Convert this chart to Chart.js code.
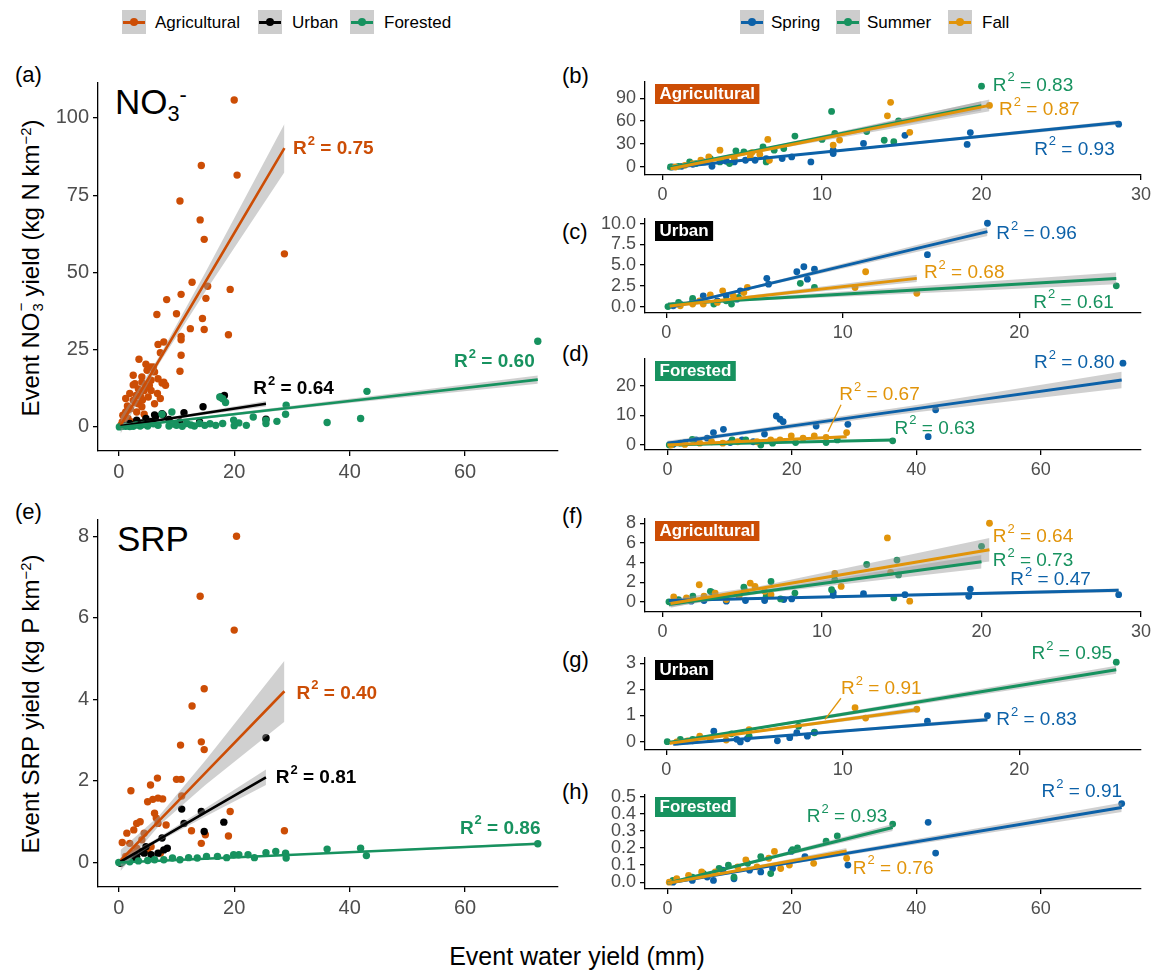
<!DOCTYPE html>
<html>
<head>
<meta charset="utf-8">
<script src="https://cdn.jsdelivr.net/npm/chart.js@4.4.1/dist/chart.umd.min.js"></script>
<style>
  body { margin: 0; background: #fff; font-family: "Liberation Sans", Arial, Helvetica, sans-serif; }
  #fig { position: relative; width: 1151px; height: 972px; overflow: hidden; background: #fff; }
  #fig canvas { position: absolute; }
  .t { position: absolute; white-space: nowrap; color: #000; line-height: 1; }
  .lab { font-size: 22px; transform: translateY(-50%); }
  .key { position: absolute; width: 24px; height: 24px; background: #cdcdcd; }
  .key i { position: absolute; left: 1px; right: 1px; top: 11px; height: 3px; }
  .key b { position: absolute; left: 8px; top: 8px; width: 8px; height: 8px; border-radius: 50%; }
  .leg { font-size: 17px; transform: translateY(-50%); }
  .ytitle { font-size: 24px; transform: translate(-50%, -50%) rotate(-90deg); }
  .big { font-size: 35px; }
  sup { font-size: 0.62em; line-height: 0; vertical-align: 0.55em; }
  sub { font-size: 0.62em; line-height: 0; vertical-align: -0.3em; }
  .ion { position: relative; font-size: 0.62em; vertical-align: -0.3em; line-height: 0; margin-left: 1px; }
  .ion span { position: absolute; left: 0.02em; top: -1.1em; line-height: 1; }
</style>
</head>
<body>
<div id="fig">
  <!-- legends -->
  <span class="key" style="left:122px;top:10px"><i style="background:#cc4d05"></i><b style="background:#cc4d05"></b></span>
  <span class="t leg" style="left:155px;top:22px">Agricultural</span>
  <span class="key" style="left:258px;top:10px"><i style="background:#000"></i><b style="background:#000"></b></span>
  <span class="t leg" style="left:292px;top:22px">Urban</span>
  <span class="key" style="left:350px;top:10px"><i style="background:#17925f"></i><b style="background:#17925f"></b></span>
  <span class="t leg" style="left:384px;top:22px">Forested</span>

  <span class="key" style="left:740px;top:10px"><i style="background:#0c61a8"></i><b style="background:#0c61a8"></b></span>
  <span class="t leg" style="left:771px;top:22px">Spring</span>
  <span class="key" style="left:836px;top:10px"><i style="background:#17925f"></i><b style="background:#17925f"></b></span>
  <span class="t leg" style="left:867px;top:22px">Summer</span>
  <span class="key" style="left:948px;top:10px"><i style="background:#e1940a"></i><b style="background:#e1940a"></b></span>
  <span class="t leg" style="left:982px;top:22px">Fall</span>

  <!-- panel letters -->
  <span class="t lab" style="left:15px;top:75px">(a)</span>
  <span class="t lab" style="left:15px;top:512px">(e)</span>
  <span class="t lab" style="left:562px;top:76px">(b)</span>
  <span class="t lab" style="left:562px;top:232px">(c)</span>
  <span class="t lab" style="left:562px;top:354px">(d)</span>
  <span class="t lab" style="left:562px;top:516px">(f)</span>
  <span class="t lab" style="left:562px;top:660px">(g)</span>
  <span class="t lab" style="left:562px;top:792px">(h)</span>

  <!-- big panel titles -->
  <span class="t big" style="left:115px;top:84px">NO<sub>3</sub><sup>-</sup></span>
  <span class="t big" style="left:117px;top:521px">SRP</span>

  <!-- axis titles -->
  <span class="t ytitle" style="left:31px;top:268px">Event NO<span class="ion">3<span>−</span></span> yield (kg N km<sup>−2</sup>)</span>
  <span class="t ytitle" style="left:31px;top:704px">Event SRP yield (kg P km<sup>−2</sup>)</span>
  <span class="t" style="left:577px;top:956px;font-size:25px;transform:translate(-50%,-50%)">Event water yield (mm)</span>
</div>

<script>
// ---------- tick values ----------
const ticksBig = [0, 20, 40, 60];
const ticks30 = [0, 10, 20, 30];
const ticks20 = [0, 10, 20];
const yTicksNo3 = [0, 25, 50, 75, 100];
const yTicksSrp = [0, 2, 4, 6, 8];

// ---------- (a) NO3, by land use ----------
const no3AgriPts = [[20.0,105.8],[14.3,84.6],[20.5,81.5],[10.6,73.1],[14.1,67.0],[14.8,60.7],[28.7,56.0],[12.7,46.8],[15.4,45.5],[19.3,44.5],[10.8,42.9],[8.3,41.2],[15.1,41.6],[6.6,36.4],[10.0,36.6],[14.5,35.1],[12.4,31.8],[14.8,31.5],[19.0,29.8],[10.8,29.3],[10.8,28.2],[6.8,26.7],[7.8,27.5],[7.2,24.0],[10.8,23.2],[3.5,21.9],[10.6,18.0],[4.7,20.3],[5.5,19.4],[6.2,17.8],[4.9,18.3],[4.0,16.2],[5.6,15.1],[6.8,15.6],[7.8,14.5],[8.1,13.5],[2.8,14.0],[3.4,12.3],[4.4,11.8],[5.6,11.8],[6.7,10.8],[7.2,9.2],[1.9,10.8],[1.2,9.2],[2.5,8.6],[3.4,7.5],[4.0,6.5],[2.0,5.9],[1.2,4.8],[0.7,3.8],[1.6,2.7],[2.2,1.6],[0.9,1.1],[3.1,4.8],[4.4,4.1],[6.2,7.5],[3.0,10.2],[4.0,14.5],[2.5,16.7],[6.0,19.4],[7.5,14.2],[2.5,13.6],[2.9,7.8],[1.6,5.5],[1.1,3.2],[0.6,1.6],[4.1,8.7],[5.1,9.7],[4.6,12.9],[0.4,0.6],[1.5,6.8],[3.8,9.8],[5.3,13.4]];
const no3UrbPts = [[18.3,10.2],[17.7,9.7],[14.6,6.5],[11.3,4.6],[7.5,4.3],[6.4,3.4],[4.7,2.7],[3.1,2.2],[25.5,2.5],[14.0,1.6],[1.9,1.1],[0.9,0.5],[3.9,1.3],[5.6,1.8],[8.7,2.4],[10.6,1.6],[6.2,3.9],[7.7,3.9]];
const no3ForPts = [[72.6,27.7],[43.0,11.5],[41.9,2.7],[36.1,1.4],[29.0,7.0],[28.9,4.1],[27.4,1.8],[25.5,1.1],[25.5,2.2],[23.3,3.2],[20.8,1.3],[19.9,2.2],[17.5,9.7],[18.5,7.9],[18.0,9.1],[9.2,4.8],[7.5,4.1],[16.8,0.5],[14.9,0.5],[13.1,0.3],[11.8,1.1],[10.0,0.5],[8.7,0.3],[6.8,0.5],[5.0,0.3],[3.7,0.3],[2.5,0.2],[1.2,0.2],[0.1,0.0],[0.6,0.2],[1.9,0.1],[18.0,1.1],[22.1,0.5],[14.0,1.1],[4.3,0.8],[6.0,1.0],[9.5,0.9],[12.5,0.6],[15.8,1.0],[3.0,0.6],[11.0,0.2],[20.0,0.4]];
// fit rows: [x, fitted, lower CI, upper CI]
const no3AgriFit = [[0.3,0.45,-2.2,3.1],[7,21.6,20.4,22.8],[15,46.9,43.8,50.0],[28.7,90.2,82.4,98.0]];
const no3UrbFit = [[0.3,0.3,-0.3,0.9],[6,1.93,1.63,2.23],[15,4.5,3.9,5.1],[25.5,7.5,6.6,8.4]];
const no3ForFit = [[0.1,-0.1,-0.5,0.3],[10,2.0,1.7,2.3],[40,8.4,7.7,9.1],[72.6,15.3,14.0,16.6]];

// ---------- (e) SRP, by land use ----------
const srpAgriPts = [[20.4,8.0],[14.1,6.53],[20.0,5.70],[14.8,4.26],[12.7,3.84],[14.3,2.96],[14.8,2.77],[10.7,2.88],[10.0,2.04],[10.8,2.04],[6.7,2.07],[5.5,1.90],[2.1,1.76],[19.3,1.25],[28.7,0.78],[19.0,0.65],[10.9,1.63],[5.0,1.49],[5.9,1.55],[6.8,1.58],[7.6,1.56],[8.2,0.92],[12.6,0.78],[15.0,0.68],[3.1,0.96],[3.7,1.0],[2.6,0.8],[1.4,0.72],[0.6,0.49],[1.9,0.47],[4.4,0.72],[6.2,1.21],[6.5,1.09],[6.8,0.96],[14.3,0.47],[5.6,0.39],[7.2,0.23],[3.1,0.35],[4.0,0.56],[5.0,0.31],[2.2,0.23],[1.2,0.15]];
const srpUrbPts = [[25.5,3.06],[10.9,1.31],[14.3,1.25],[18.2,0.99],[14.8,0.76],[11.3,0.96],[7.5,0.6],[8.4,0.35],[7.8,0.31],[4.7,0.39],[4.4,0.23],[4.0,0.27],[3.1,0.15],[2.5,0.11],[1.2,0.07],[0.3,-0.02],[6.8,0.23],[5.6,0.19]];
const srpForPts = [[72.6,0.46],[41.9,0.35],[42.9,0.17],[36.1,0.33],[29.0,0.11],[28.9,0.23],[27.2,0.27],[25.5,0.24],[23.5,0.12],[22.4,0.19],[20.8,0.19],[19.9,0.19],[18.7,0.12],[17.1,0.15],[15.2,0.15],[13.6,0.11],[12.1,0.12],[10.6,0.07],[9.3,0.11],[7.8,0.07],[6.2,0.07],[5.0,0.05],[3.4,0.04],[1.9,0.02],[0.6,0.01],[0,0]];
const srpAgriFit = [[0.3,0.05,-0.21,0.31],[7,1.03,0.91,1.15],[15,2.2,1.9,2.5],[28.7,4.2,3.45,4.95]];
const srpUrbFit = [[0.3,0.02,-0.08,0.12],[6,0.49,0.44,0.54],[15,1.23,1.13,1.33],[25.5,2.09,1.9,2.28]];
const srpForFit = [[0,0,-0.02,0.02],[10,0.063,0.055,0.071],[72.6,0.46,0.43,0.49]];

// ---------- (b) Agricultural NO3 by season ----------
const agNo3Spr = [[28.6,56],[19.3,45],[19.1,29.5],[15.2,41.4],[12.6,30.8],[10.7,22],[10.7,17.6],[8.1,13.2],[7.5,11],[6.5,11],[5.8,8.8],[5.2,8.8],[4.5,6.6],[4.0,7.5],[3.1,0.9],[2.6,6.6],[1.9,3.5],[1.2,0.9],[0.6,0],[9.3,6.6]];
const agNo3Sum = [[20.0,105.7],[10.6,72.7],[8.3,40.5],[13.9,35],[14.8,60.4],[14.5,33],[12.8,46.3],[10.8,44],[10.0,36],[7.6,24.2],[7.0,22],[6.3,26.4],[6.5,6.6],[5.1,19.8],[4.6,21.1],[4.2,4.4],[3.6,6.6],[3.0,11],[2.1,4.4],[1.7,6.6],[1.0,0.9],[0.5,0]];
const agNo3Fall = [[20.5,80.6],[14.3,84.6],[14.1,67],[15.5,45.4],[11.1,35.2],[10.7,28.6],[6.6,36.1],[6.7,8.8],[6.1,16.3],[5.6,18.9],[3.6,22],[2.9,13.2],[2.4,8.8],[1.9,4.4],[1.4,2.2],[0.8,0],[4.5,11],[5.5,13.2]];
const agNo3SprFit = [[0.4,-0.9,-2.5,0.7],[6,10.8,9.9,11.7],[28.6,58.1,55.3,60.9]];
const agNo3SumFit = [[0.3,-1.5,-4,1],[6,22.1,20.8,23.4],[20,80,74,86]];
const agNo3FallFit = [[0.5,-2.2,-5,0.6],[6,20.6,19.2,22],[20.5,80.6,72.8,88.4]];

// ---------- (c) Urban NO3 by season ----------
const urNo3Spr = [[18.2,10.04],[14.8,6.25],[7.8,4.8],[7.4,4.2],[8.4,4.5],[8.0,3.3],[5.7,3.4],[5.8,2.7],[4.2,1.9],[4.0,0.9],[3.4,1.3],[2.1,1.3],[1.5,0.7],[0.8,0.3],[0.4,0.1],[2.9,0.7]];
const urNo3Sum = [[25.5,2.5],[7.6,2.8],[8.4,2.3],[3.7,0.3],[3.4,0.7],[1.5,1.0],[0.7,0.5],[0.1,0],[2.7,0.3],[4.1,1.1]];
const urNo3Fall = [[11.3,4.2],[10.7,2.3],[14.2,1.6],[4.6,2.3],[3.2,1.9],[2.5,1.4],[1.9,0.7],[1.5,0.3],[0.8,0.1],[3.8,1.3],[4.4,1.7],[2.9,0.5],[2.1,0.3]];
const urNo3SprFit = [[0.4,0,-0.25,0.25],[4,1.83,1.7,1.96],[18.2,9.03,8.5,9.55]];
const urNo3SumFit = [[0.1,0.28,0.05,0.51],[4,0.77,0.6,0.94],[25.5,3.39,2.7,4.1]];
const urNo3FallFit = [[0.2,0.08,-0.15,0.31],[3,0.74,0.6,0.88],[14.2,3.4,2.95,3.85]];

// ---------- (d) Forested NO3 by season ----------
const foNo3Spr = [[73.2,27.7],[43.1,11.9],[41.9,2.8],[29.0,7.0],[23.9,6.4],[17.5,9.8],[18.1,8.7],[18.6,7.9],[15.6,3.7],[9.0,5.3],[7.4,4.2],[6.4,2.3],[4.6,1.7],[2.8,0.8],[0.9,0.2],[12.0,1.7],[13.8,1.1],[10.1,0.8]];
const foNo3Sum = [[36.2,1.4],[25.5,0.8],[20.6,0.8],[15.0,0],[12.6,1.7],[10.4,1.7],[4.0,1.9],[2.1,0.6],[0.3,0],[16.9,0.6],[27.3,1.7]];
const foNo3Fall = [[28.8,4.2],[23.6,3.1],[19.9,3.1],[16.6,1.7],[14.4,1.1],[11.3,1.1],[8.9,0.6],[7.1,1.1],[5.2,0.6],[2.8,0.2],[0.6,0],[21.8,2.3],[25.5,2.6],[18.1,1.7]];
const foNo3SprFit = [[0,0.56,-0.3,1.4],[10,3.5,2.9,4.1],[40,12.3,11.1,13.5],[73,22,19.2,24.8]];
const foNo3SumFit = [[0,0,-0.25,0.25],[10,0.47,0.35,0.59],[36.2,1.7,1.3,2.1]];
const foNo3FallFit = [[0,0,-0.3,0.3],[10,0.97,0.8,1.14],[28.8,2.8,2.3,3.3]];

// ---------- (f) Agricultural SRP by season ----------
const agSrpSpr = [[28.6,0.73],[19.3,1.3],[19.2,0.57],[15.2,0.73],[12.6,0.83],[10.7,0.67],[10.7,0.97],[8.1,0.3],[6.4,0.13],[5.2,0.13],[3.1,0.97],[2.6,0.13],[1.8,0.07],[1.0,0.07],[4.0,0.07],[7.6,0.23]];
const agSrpSum = [[20.0,5.65],[14.7,4.25],[14.8,2.74],[12.8,3.8],[10.8,2.24],[10.6,1.24],[8.3,0.9],[6.8,2.07],[5.1,1.5],[5.2,1.07],[3.0,1.07],[1.9,0.57],[1.0,0.23],[0.4,0],[7.4,0.3],[14.5,0.4],[6.5,0.57]];
const agSrpFall = [[20.5,8.0],[14.1,6.5],[14.3,3.0],[15.5,0.07],[11.2,1.57],[10.8,2.9],[5.5,1.9],[5.8,1.57],[2.3,1.74],[0.7,0.5],[1.5,0.4],[2.6,0.57],[3.3,0.9],[4.0,0.23],[6.8,0.73],[6.4,1.07],[4.8,0.57]];
const agSrpSprFit = [[0.4,0.13,-0.05,0.31],[8,0.41,0.33,0.49],[28.6,1.17,0.97,1.37]];
const agSrpSumFit = [[0.4,-0.27,-0.55,0.01],[6,0.97,0.8,1.14],[20,4.08,3.4,4.76]];
const agSrpFallFit = [[0.5,-0.17,-0.6,0.26],[6,1.33,1.1,1.56],[20.5,5.3,4.1,6.5]];

// ---------- (g) Urban SRP by season ----------
const urSrpSpr = [[18.2,0.99],[14.8,0.78],[8.4,0.36],[8.0,0.21],[7.4,0.34],[7.0,0.15],[6.3,0.03],[4.2,-0.01],[4.0,0.09],[2.7,0.4],[4.6,0.11],[1.5,0.03]];
const urSrpSum = [[25.5,3.04],[8.4,0.34],[7.5,0.59],[3.7,0.3],[1.5,0.09],[0.06,0],[0.8,0.09],[4.7,0.21]];
const urSrpFall = [[14.2,1.24],[10.7,1.3],[11.3,0.9],[4.7,0.46],[3.4,0.06],[2.5,0.09],[1.9,0.21],[1.2,0.03],[0.6,-0.01]];
const urSrpSprFit = [[0.4,-0.1,-0.16,-0.04],[5,0.14,0.11,0.17],[18.2,0.84,0.76,0.92]];
const urSrpSumFit = [[0.06,-0.04,-0.1,0.02],[4,0.39,0.35,0.43],[25.5,2.75,2.6,2.9]];
const urSrpFallFit = [[0.2,-0.06,-0.12,0],[3,0.2,0.17,0.23],[14.2,1.22,1.12,1.32]];

// ---------- (h) Forested SRP by season ----------
const foSrpSpr = [[73,0.46],[41.9,0.35],[43.1,0.17],[29.0,0.1],[22.1,0.15],[19.9,0.18],[15.0,0.06],[10.7,0.02],[7.4,0.01],[4.0,0.01],[0.9,0],[8.9,0.07],[13.2,0.07],[16.9,0.08],[6.4,0.03]];
const foSrpSum = [[36.2,0.34],[27.3,0.27],[25.5,0.24],[20.9,0.2],[20.1,0.19],[15.0,0.15],[12.9,0.11],[9.8,0.1],[8.3,0.08],[5.8,0.05],[4.0,0.03],[0.9,0.01],[16.6,0.05],[10.7,0.03]];
const foSrpFall = [[28.8,0.14],[23.5,0.11],[18.2,0.08],[17.2,0.18],[16.3,0.14],[12.6,0.13],[11.3,0.09],[7.7,0.06],[5.5,0.06],[3.4,0.04],[1.5,0.02],[0.3,0],[14.4,0.09],[19.6,0.1]];
const foSrpSprFit = [[0,-0.006,-0.015,0.003],[15,0.085,0.079,0.091],[73,0.437,0.41,0.464]];
const foSrpSumFit = [[0,-0.006,-0.016,0.004],[10,0.084,0.078,0.09],[36.2,0.32,0.3,0.34]];
const foSrpFallFit = [[0,-0.006,-0.016,0.004],[8,0.046,0.04,0.052],[28.8,0.183,0.165,0.2]];

// R2 labels: [value, x, y] in data units
const rsqA = [['0.75',30.2,90], ['0.64',23.3,12.4], ['0.60',58.1,21.0]];
const rsqE = [['0.40',30.8,4.15], ['0.81',27.2,2.07], ['0.86',59.1,0.84]];
const rsqB = [['0.93',23.3,23], ['0.83',20.7,106.6], ['0.87',21.1,75]];
const rsqC = [['0.96',18.7,8.8], ['0.61',20.8,0.5], ['0.68',14.6,4.1]];
const rsqD = [['0.80',58.9,27.7], ['0.63',36.5,5.6], ['0.67',27.6,17.0]];
const rsqF = [['0.47',21.8,2.2], ['0.73',20.7,4.2], ['0.64',20.7,6.6]];
const rsqG = [['0.83',18.7,0.84], ['0.95',20.7,3.37], ['0.91',9.9,2.03]];
const rsqH = [['0.91',60.1,0.53], ['0.93',22.4,0.38], ['0.76',29.8,0.08]];

const FONT = '"Liberation Sans", Arial, Helvetica, sans-serif';
const AGRI = '#cc4d05', URB = '#000000', FOR = '#17925f';
const SPR = '#0c61a8', SUM = '#17925f', FALL = '#e1940a';
const BAND = 'rgba(150,150,150,0.45)';

const xy = (arr, k) => arr.map(r => ({ x: r[0], y: r[k] }));

// draws R2 labels, leader lines and the facet tag
function textPlugin(p) {
  return {
    id: 'panelText',
    afterDatasetsDraw(chart) {
      const ctx = chart.ctx, sx = chart.scales.x, sy = chart.scales.y, ca = chart.chartArea;
      ctx.save();
      (p.leaders || []).forEach(([x1, y1, x2, y2, c]) => {
        ctx.strokeStyle = c; ctx.lineWidth = 1.3;
        ctx.beginPath();
        ctx.moveTo(sx.getPixelForValue(x1), sy.getPixelForValue(y1));
        ctx.lineTo(sx.getPixelForValue(x2), sy.getPixelForValue(y2));
        ctx.stroke();
      });
      const w = p.big ? 'bold ' : '';
      const fs = 19;
      ctx.textBaseline = 'middle'; ctx.textAlign = 'left';
      p.rsq.forEach(([v, x, y], i) => {
        let px = sx.getPixelForValue(x);
        const py = sy.getPixelForValue(y);
        ctx.fillStyle = p.series[i][2];
        ctx.font = `${w}${fs}px ${FONT}`;
        ctx.fillText('R', px, py);
        px += ctx.measureText('R').width + 1;
        ctx.font = `${w}${Math.round(fs * 0.68)}px ${FONT}`;
        ctx.fillText('2', px, py - fs * 0.4);
        px += ctx.measureText('2').width;
        ctx.font = `${w}${fs}px ${FONT}`;
        ctx.fillText(' = ' + v, px, py);
      });
      if (p.strip) {
        ctx.font = `bold 17px ${FONT}`;
        const tw = ctx.measureText(p.strip[0]).width;
        const bx = ca.left + 10, by = ca.top + 2;
        ctx.fillStyle = p.strip[1];
        ctx.fillRect(bx, by, tw + 9, 20);
        ctx.fillStyle = '#fff';
        ctx.fillText(p.strip[0], bx + 4.5, by + 10.5);
      }
      ctx.restore();
    }
  };
}

function panel(p) {
  const PADT = 20, PADR = 14, YW = 80, XH = 42;
  const [l, t, r, b] = p.box;
  const left = l - YW, top = t - PADT;
  const w = r - left + PADR, h = b - top + XH;
  const cv = document.createElement('canvas');
  cv.width = w; cv.height = h;
  cv.style.left = left + 'px'; cv.style.top = top + 'px';
  cv.style.width = w + 'px'; cv.style.height = h + 'px';
  document.getElementById('fig').appendChild(cv);

  const R = p.big ? 3.7 : 3.4, LW = p.big ? 2.6 : 3;
  const ds = [];
  p.series.forEach(([pts, fit, col], i) => {
    ds.push({ data: xy(pts, 1), showLine: false, pointRadius: R, pointBorderWidth: 0,
              pointBackgroundColor: col, pointStyle: 'circle', order: 30 - i });
  });
  p.series.forEach(([pts, fit, col], i) => {
    ds.push({ data: xy(fit, 2), borderWidth: 0, pointRadius: 0, fill: false, order: 20 - i });
    ds.push({ data: xy(fit, 3), borderWidth: 0, pointRadius: 0, fill: '-1',
              backgroundColor: BAND, order: 20 - i });
    ds.push({ data: xy(fit, 1), borderColor: col, borderWidth: LW, pointRadius: 0,
              fill: false, tension: 0, order: 10 - i });
  });

  const tickFont = { family: FONT, size: p.big ? 20 : 18 };
  const axis = (min, max, vals, fmt, fitFn) => ({
    type: 'linear', min, max,
    afterBuildTicks: s => { s.ticks = vals.map(v => ({ value: v })); },
    afterFit: fitFn,
    border: { display: true, color: '#000', width: 1.3 },
    grid: { display: true, drawOnChartArea: false, drawTicks: true, tickLength: 5, color: '#000', lineWidth: 1.3 },
    ticks: { autoSkip: false, maxRotation: 0, color: '#4d4d4d', font: tickFont, padding: 4,
             callback: v => fmt ? v.toFixed(fmt) : String(v) }
  });

  new Chart(cv, {
    type: 'line',
    data: { datasets: ds },
    options: {
      responsive: false, animation: false, events: [],
      layout: { padding: { top: PADT, right: PADR, left: 0, bottom: 0 } },
      plugins: { legend: { display: false }, tooltip: { enabled: false }, filler: { propagate: false } },
      scales: {
        x: axis(p.x[0], p.x[1], p.xt, 0, s => { s.height = XH; }),
        y: axis(p.y[0], p.y[1], p.yt, p.yfmt || 0, s => { s.width = YW; })
      }
    },
    plugins: [textPlugin(p)]
  });
}

const XBIG = [-3.6, 76.1];

panel({ big: true, box: [98, 83, 558, 451], x: XBIG, y: [-7.8, 111.3], xt: ticksBig, yt: yTicksNo3,
  series: [[no3AgriPts, no3AgriFit, AGRI], [no3UrbPts, no3UrbFit, URB], [no3ForPts, no3ForFit, FOR]], rsq: rsqA });
panel({ big: true, box: [98, 520, 558, 887], x: XBIG, y: [-0.6, 8.4], xt: ticksBig, yt: yTicksSrp,
  series: [[srpAgriPts, srpAgriFit, AGRI], [srpUrbPts, srpUrbFit, URB], [srpForPts, srpForFit, FOR]], rsq: rsqE });

panel({ box: [645, 82, 1141, 175], x: [-1.1, 30.0], y: [-10.5, 111.2], xt: ticks30, yt: [0, 30, 60, 90],
  series: [[agNo3Spr, agNo3SprFit, SPR], [agNo3Sum, agNo3SumFit, SUM], [agNo3Fall, agNo3FallFit, FALL]],
  rsq: rsqB, strip: ['Agricultural', AGRI] });
panel({ box: [645, 219, 1141, 313], x: [-1.2, 26.9], y: [-0.77, 10.55], xt: ticks20, yt: [0, 2.5, 5, 7.5, 10], yfmt: 1,
  series: [[urNo3Spr, urNo3SprFit, SPR], [urNo3Sum, urNo3SumFit, SUM], [urNo3Fall, urNo3FallFit, FALL]],
  rsq: rsqC, strip: ['Urban', URB] });
panel({ box: [645, 359, 1141, 450], x: XBIG, y: [-1.7, 29.1], xt: ticksBig, yt: [0, 10, 20],
  series: [[foNo3Spr, foNo3SprFit, SPR], [foNo3Sum, foNo3SumFit, SUM], [foNo3Fall, foNo3FallFit, FALL]],
  rsq: rsqD, strip: ['Forested', FOR], leaders: [[27.9, 13.6, 25.8, 4.5, FALL]] });

panel({ box: [645, 519, 1141, 612], x: [-1.1, 30.0], y: [-1.03, 8.43], xt: ticks30, yt: [0, 2, 4, 6, 8],
  series: [[agSrpSpr, agSrpSprFit, SPR], [agSrpSum, agSrpSumFit, SUM], [agSrpFall, agSrpFallFit, FALL]],
  rsq: rsqF, strip: ['Agricultural', AGRI] });
panel({ box: [645, 658, 1141, 750], x: [-1.2, 26.9], y: [-0.32, 3.2], xt: ticks20, yt: [0, 1, 2, 3],
  series: [[urSrpSpr, urSrpSprFit, SPR], [urSrpSum, urSrpSumFit, SUM], [urSrpFall, urSrpFallFit, FALL]],
  rsq: rsqG, strip: ['Urban', URB], leaders: [[9.9, 1.66, 9.0, 0.85, FALL]] });
panel({ box: [645, 795, 1141, 889], x: XBIG, y: [-0.04, 0.51], xt: ticksBig, yt: [0, 0.1, 0.2, 0.3, 0.4, 0.5], yfmt: 1,
  series: [[foSrpSpr, foSrpSprFit, SPR], [foSrpSum, foSrpSumFit, SUM], [foSrpFall, foSrpFallFit, FALL]],
  rsq: rsqH, strip: ['Forested', FOR] });
</script>
</body>
</html>
